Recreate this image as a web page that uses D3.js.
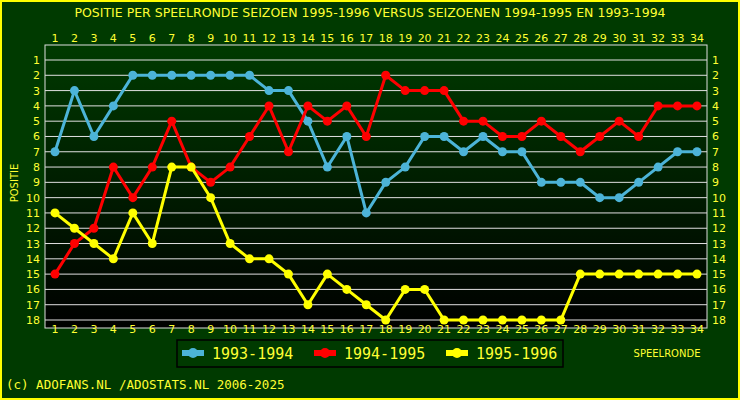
<!DOCTYPE html>
<html>
<head>
<meta charset="utf-8">
<script src="https://d3js.org/d3.v7.min.js"></script>
<style>body{margin:0;background:#fff}</style>
</head>
<body>
<div id="chart"></div>
<script>
const rounds = d3.range(1, 35);
const ranks = d3.range(1, 19);
const s9394 = [7,3,6,4,2,2,2,2,2,2,2,3,3,5,8,6,11,9,8,6,6,7,6,7,7,9,9,9,10,10,9,8,7,7];
const s9495 = [15,13,12,8,10,8,5,8,9,8,6,4,7,4,5,4,6,2,3,3,3,5,5,6,6,5,6,7,6,5,6,4,4,4];
const s9596 = [11,12,13,14,11,13,8,8,10,13,14,14,15,17,15,16,17,18,16,16,18,18,18,18,18,18,18,15,15,15,15,15,15,15];
const seriesNames = ["1993-1994", "1994-1995", "1995-1996"];
const colors = ["#4cb4d8", "#ff0000", "#ffff00"];

const W = 740, H = 400;
const svg = d3.select("#chart").append("svg").attr("width", W).attr("height", H)
  .style("font-family", "DejaVu Sans");
svg.append("rect").attr("x",1).attr("y",1).attr("width",W-2).attr("height",H-2)
  .attr("fill","#003a00").attr("stroke","#ffff00").attr("stroke-width",2);

const defs = svg.append("defs");
const grad = defs.append("linearGradient").attr("id","bg").attr("x1",0).attr("x2",0).attr("y1",0).attr("y2",1);
grad.append("stop").attr("offset","0%").attr("stop-color","#003a00");
grad.append("stop").attr("offset","100%").attr("stop-color","#000000");

const pLeft = 45, pRight = 707, pTop = 45, pBottom = 328;
svg.append("rect").attr("x",pLeft).attr("y",pTop).attr("width",pRight-pLeft).attr("height",pBottom-pTop)
  .attr("fill","url(#bg)").attr("stroke","#ddd").attr("stroke-width",1);

const x = d3.scaleLinear().domain([1, 34]).range([55, 697]);
const y = d3.scaleLinear().domain([1, 18]).range([60, 320]);

svg.append("g").selectAll("line").data(ranks).join("line")
  .attr("x1", pLeft).attr("x2", pRight).attr("y1", d => y(d)).attr("y2", d => y(d))
  .attr("stroke", "#e0e0e0").attr("stroke-width", 1);

const tc = "#ffff33";
svg.append("g").selectAll("text").data(rounds).join("text")
  .attr("x", d => x(d)).attr("y", 42).attr("text-anchor","middle")
  .attr("font-size",11).attr("fill",tc).text(d => d);
svg.append("g").selectAll("text").data(rounds).join("text")
  .attr("x", d => x(d)).attr("y", 333).attr("text-anchor","middle")
  .attr("font-size",11).attr("fill",tc).text(d => d);
svg.append("g").selectAll("text").data(ranks).join("text")
  .attr("x", 40).attr("y", d => y(d) + 4).attr("text-anchor","end")
  .attr("font-size",11).attr("fill",tc).text(d => d);
svg.append("g").selectAll("text").data(ranks).join("text")
  .attr("x", 712).attr("y", d => y(d) + 4).attr("text-anchor","start")
  .attr("font-size",11).attr("fill",tc).text(d => d);

svg.append("text").attr("x", 370).attr("y", 17).attr("text-anchor","middle")
  .attr("font-size",12.5).attr("fill",tc)
  .text("POSITIE PER SPEELRONDE SEIZOEN 1995-1996 VERSUS SEIZOENEN 1994-1995 EN 1993-1994");
svg.append("text").attr("transform","translate(18,183) rotate(-90)").attr("text-anchor","middle")
  .attr("font-size",10).attr("fill",tc).text("POSITIE");
svg.append("text").attr("x", 667).attr("y", 357).attr("text-anchor","middle")
  .attr("font-size",10).attr("fill",tc).text("SPEELRONDE");
svg.append("text").attr("x", 6).attr("y", 389).attr("font-family","DejaVu Sans Mono")
  .attr("font-size",12.5).attr("fill",tc).text("(c) ADOFANS.NL /ADOSTATS.NL 2006-2025");

const line = d3.line().x((d,i) => x(i+1)).y(d => y(d));
[s9394, s9495, s9596].forEach((s, k) => {
  const g = svg.append("g");
  g.append("path").datum(s).attr("d", line).attr("fill","none")
    .attr("stroke", colors[k]).attr("stroke-width", 3);
  g.selectAll("circle").data(s).join("circle")
    .attr("cx", (d,i) => x(i+1)).attr("cy", d => y(d)).attr("r", 4.5)
    .attr("fill", colors[k]);
});

const lg = svg.append("g");
lg.append("rect").attr("x",177).attr("y",340).attr("width",386).attr("height",27)
  .attr("fill","none").attr("stroke","#000").attr("stroke-width",1.5);
seriesNames.forEach((n, k) => {
  const lx = 182 + k*132;
  lg.append("rect").attr("x", lx).attr("y", 350).attr("width", 22).attr("height", 6).attr("fill", colors[k]);
  lg.append("circle").attr("cx", lx + 11).attr("cy", 353).attr("r", 5).attr("fill", colors[k]);
  lg.append("text").attr("x", lx + 30).attr("y", 359).attr("font-family","DejaVu Sans Mono")
    .attr("font-size",15).attr("fill",tc).text(n);
});
</script>
</body>
</html>
